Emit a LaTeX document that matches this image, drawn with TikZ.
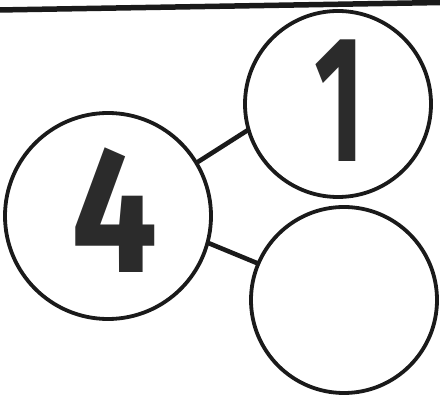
\documentclass[tikz,border=0pt]{standalone}
\usepackage{fontspec}
\newfontfamily\digitfont{Fira Sans}
\definecolor{ink}{HTML}{1A1A1A}
\definecolor{digit}{HTML}{2B2B2B}
\begin{document}
\begin{tikzpicture}[x=1pt,y=-1pt,
  bubble/.style={draw=ink,line width=3.8pt,circle,inner sep=0pt,outer sep=0pt},
  link/.style={draw=ink,line width=4.6pt},
  bignum/.style={text=digit,inner sep=0pt,font=\digitfont\bfseries\fontsize{180}{180}\selectfont}]
\useasboundingbox (0,0) rectangle (440,395);
\coordinate (topL) at (-2,10);
\coordinate (topR) at (442,2.5);
\draw[ink,line width=5.5pt] (topL) -- (topR);
\node[bubble,minimum size=206pt] (L) at (108,216) {};
\node[bubble,minimum size=186pt] (U) at (338,104) {};
\node[bubble,minimum size=186pt] (D) at (344,300) {};
\draw[link] (L.31.8) -- (U.196.8);
\draw[link] (L.-15.3) -- (D.157.4);
\node[bignum,xscale=0.85] (four) at (115,210.5) {4};
\node[bignum,xscale=0.6] (one) at (339.5,100.5) {1};
\end{tikzpicture}
\end{document}
